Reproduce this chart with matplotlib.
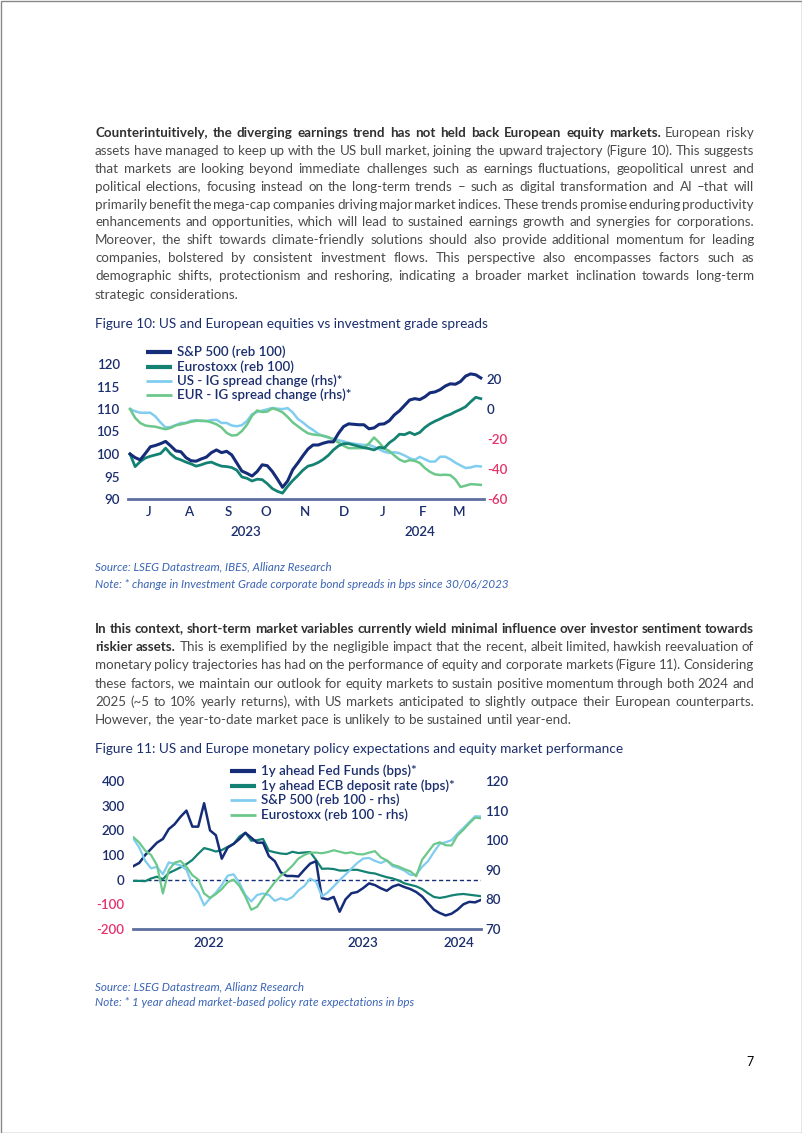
import numpy as np
import pandas as pd
import matplotlib
matplotlib.use('Agg')
import matplotlib.pyplot as plt
import matplotlib.dates as mdates
from matplotlib.lines import Line2D
from matplotlib.patches import Rectangle

# ---- figure 10 data (every 4 days from 30/06/2023) ----
dates10 = pd.date_range('2023-06-30', periods=70, freq='4D')
sp500_10 = [100.0, 99.2, 98.7, 100.1, 101.6, 101.9, 102.3, 102.8, 101.8, 100.7,
            100.5, 99.2, 98.5, 98.4, 98.9, 99.3, 100.3, 100.9, 100.3, 100.6,
            99.8, 98.0, 96.2, 95.7, 95.1, 96.1, 97.6, 97.4, 96.1, 94.4,
            92.6, 94.0, 96.5, 98.0, 99.6, 101.1, 102.0, 102.0, 102.4, 102.7,
            102.7, 104.6, 106.1, 106.7, 106.6, 106.5, 106.5, 105.6, 105.8, 106.6,
            106.7, 107.4, 108.7, 109.6, 110.8, 112.0, 112.3, 112.1, 112.7, 113.6,
            113.8, 114.3, 115.1, 115.6, 115.5, 116.1, 117.3, 117.8, 117.6, 116.9]
estx_10 = [100.0, 97.2, 98.3, 99.1, 99.5, 99.8, 100.1, 101.3, 100.0, 99.1,
           98.7, 98.2, 97.8, 97.3, 97.6, 98.0, 98.2, 97.7, 97.3, 97.2,
           97.0, 96.4, 94.9, 94.6, 94.0, 94.4, 94.3, 93.4, 92.3, 91.7,
           91.3, 92.8, 94.1, 95.2, 96.4, 97.3, 97.6, 98.1, 98.8, 99.7,
           100.9, 101.8, 102.3, 102.3, 102.0, 101.7, 101.4, 101.2, 100.9, 101.5,
           101.3, 102.5, 103.3, 104.4, 104.3, 104.8, 104.3, 104.8, 105.9, 106.7,
           107.3, 107.8, 108.4, 108.8, 109.4, 109.9, 110.5, 111.6, 112.6, 112.3]
us_ig = [0, -1.5, -2.5, -2.5, -2.5, -5, -9, -12.3, -12, -10.7,
         -9.3, -9.3, -7.8, -7.4, -8.1, -8.1, -7.4, -7.2, -9.3, -9.3,
         -11, -11.5, -10.8, -8, -3.5, -1.9, -1.1, -0.2, 0.7, 0.2,
         -0.1, 0.6, -2.3, -6.6, -9.0, -11.8, -14, -16.5, -18.1, -19.1,
         -19.9, -20.8, -21.6, -22.5, -23.1, -23.6, -23.9, -23.9, -25.2, -26.9,
         -28.5, -29.3, -28.8, -29.5, -31.0, -32.8, -33.9, -31.9, -33.5, -35.1,
         -35, -31.8, -31.8, -33.5, -35.8, -37.6, -39.3, -39, -38, -38.3]
eur_ig = [0, -5.9, -9.3, -11, -11.5, -11.8, -12.7, -13.5, -12.6, -10.9,
          -10.2, -9.4, -8.5, -7.9, -7.7, -8.0, -8.9, -10.2, -12.3, -15.9,
          -17.7, -17.4, -14.7, -10.5, -4.5, -1.0, -2.0, -1.7, 0.5, -0.6,
          -2.2, -5.3, -8.9, -11.5, -14, -16.2, -17, -17.4, -17.8, -18.7,
          -20.5, -22.3, -24.5, -26.1, -26.1, -26.1, -26, -23, -19, -22.3,
          -26.3, -28, -31, -33.7, -35.2, -34.1, -34.6, -36, -39.4, -41.9,
          -43.6, -44, -43.8, -44.1, -47, -52, -51.1, -50.1, -50.3, -50.6]
labels10 = ['S&P 500 (reb 100)', 'Eurostoxx (reb 100)',
            'US - IG spread change (rhs)*', 'EUR - IG spread change (rhs)*']
months10 = ['2023-07-15', '2023-08-15', '2023-09-15', '2023-10-15', '2023-11-15',
            '2023-12-15', '2024-01-15', '2024-02-15', '2024-03-15']
month_labels10 = ['J', 'A', 'S', 'O', 'N', 'D', 'J', 'F', 'M']
years10 = {'2023': '2023-09-29', '2024': '2024-02-13'}

# ---- figure 11 data (every 14 days from 01/01/2022) ----
dates11 = pd.date_range('2022-01-01', periods=60, freq='14D')
fed = [55, 68, 100, 125, 150, 165, 205, 225, 255, 280,
       215, 215, 310, 200, 180, 85, 130, 145, 165, 190,
       170, 150, 150, 95, 75, 30, 15, 15, 13, 40,
       65, 75, -75, -80, -70, -130, -80, -55, -50, -34,
       -15, -22, -35, -45, -28, -20, -30, -38, -50, -68,
       -95, -122, -135, -145, -138, -122, -100, -90, -92, -82]
ecb = [-5, -5, -6, 5, 12, 2, 27, 38, 50, 63,
       80, 105, 128, 122, 114, 120, 133, 145, 175, 190,
       158, 160, 165, 117, 111, 106, 104, 113, 108, 110,
       112, 80, 44, 45, 43, 37, 37, 40, 40, 34,
       28, 25, 17, 10, 5, -3, -15, -21, -27, -38,
       -55, -70, -74, -70, -64, -60, -58, -61, -64, -67]
sp500_11 = [100.5, 97.5, 93, 90.5, 91, 88.5, 92.5, 92, 91.5, 90,
            85, 82.5, 78, 80.3, 82.3, 84.9, 88, 88.5, 85.5, 81.5,
            79.3, 81.5, 82, 81.5, 79.5, 80.4, 79.8, 80.8, 83, 84.5,
            87, 86, 81, 82.4, 84.4, 86.5, 88.4, 90.4, 92.3, 93.8,
            94, 93, 92.3, 93.2, 91.2, 90.6, 89.7, 88.3, 88.4, 91,
            92.9, 96, 98.8, 99.3, 100, 102.2, 104.1, 106.1, 108.1, 108]
estx_11 = [101, 99.2, 96.5, 95, 91.5, 82, 89.9, 92.4, 93, 91,
           88.2, 86.7, 82, 80.5, 81.8, 83.5, 85.8, 86.7, 84.5, 81,
           76.5, 77.5, 80.5, 83.2, 85.8, 88, 89.5, 91.4, 93.8, 95,
           95.8, 95.8, 95.6, 96, 96.6, 96.1, 95.6, 95.9, 95.3, 95.2,
           95.8, 96.3, 94.2, 93.2, 91.7, 91.1, 90.2, 89.5, 87.8, 93.4,
           96, 98.6, 99.3, 98.3, 98.2, 101.6, 103.5, 105.7, 107.6, 107.4]
labels11 = ['1y ahead Fed Funds (bps)*', '1y ahead ECB deposit rate (bps)*',
            'S&P 500 (reb 100 - rhs)', 'Eurostoxx (reb 100 - rhs)']
years11 = {'2022': '2022-06-30', '2023': '2023-06-30', '2024': '2024-02-14'}

# ---- page text ----
para1 = [
    [("Counterintuitively, the diverging earnings trend has not held back European equity markets.", True),
     ("European risky", False)],
    [("assets have managed to keep up with the US bull market, joining the upward trajectory (Figure 10). This suggests", False)],
    [("that markets are looking beyond immediate challenges such as earnings fluctuations, geopolitical unrest and", False)],
    [("political elections, focusing instead on the long-term trends \u2013 such as digital transformation and AI \u2013that will", False)],
    [("primarily benefit the mega-cap companies driving major market indices. These trends promise enduring productivity", False)],
    [("enhancements and opportunities, which will lead to sustained earnings growth and synergies for corporations.", False)],
    [("Moreover, the shift towards climate-friendly solutions should also provide additional momentum for leading", False)],
    [("companies, bolstered by consistent investment flows. This perspective also encompasses factors such as", False)],
    [("demographic shifts, protectionism and reshoring, indicating a broader market inclination towards long-term", False)],
    [("strategic considerations.", False)],
]
para2 = [
    [("In this context, short-term market variables currently wield minimal influence over investor sentiment towards", True)],
    [("riskier assets.", True),
     ("This is exemplified by the negligible impact that the recent, albeit limited, hawkish reevaluation of", False)],
    [("monetary policy trajectories has had on the performance of equity and corporate markets (Figure 11). Considering", False)],
    [("these factors, we maintain our outlook for equity markets to sustain positive momentum through both 2024 and", False)],
    [("2025 (~5 to 10% yearly returns), with US markets anticipated to slightly outpace their European counterparts.", False)],
    [("However, the year-to-date market pace is unlikely to be sustained until year-end.", False)],
]
para1_y = [133, 151, 169, 187, 205, 222, 240, 258, 276, 295]
para2_y = [629, 647, 665, 684, 702, 720]

W, H = 802, 1133
FONT = 'Lato'
plt.rcParams['font.family'] = [FONT, 'DejaVu Sans']
plt.rcParams['axes.unicode_minus'] = False

NAVY = '#152c78'
TEAL = '#138272'
LBLUE = '#80cdef'
LGREEN = '#6cc88a'
TXT = '#1b2e6e'
RED = '#e5336b'
AXL = '#5d6f9e'
SRC = '#3a64b4'
BODY = 9.6


def ink_top(a, x0, x1):
    rows = np.where((a[:, x0:x1] < 200).any(axis=1))[0]
    return rows[0] if len(rows) else 0


def comma_shift(word, bold):
    # pixel offset Agg gives a word ending in a comma against the same word without it
    ref = word.rstrip(',')
    if ref == word or ref.endswith(')'):
        return 0
    f = plt.figure(figsize=(6, 0.6), dpi=100)
    kw = dict(fontsize=BODY, va='baseline', fontweight='bold' if bold else 'normal', color='black')
    f.text(10 / 600, 0.5, ref, **kw)
    f.text(300 / 600, 0.5, word, **kw)
    f.canvas.draw()
    a = np.asarray(f.canvas.buffer_rgba())[:, :, 0]
    d = ink_top(a, 300, 600) - ink_top(a, 0, 290)
    plt.close(f)
    return d


fig = plt.figure(figsize=(W / 100, H / 100), dpi=100)
fig.patch.set_facecolor('white')


def fx(x):
    return x / W


def fy(y):
    return 1 - y / H


renderer = fig.canvas.get_renderer()


def put_line(y, segs, justify=True, x0=95, x1=754):
    words = []
    for txt, bold in segs:
        for w in txt.split():
            words.append((w, bold))
    arts = []
    for w, bold in words:
        dy = comma_shift(w, bold)
        t = fig.text(0, fy(y + 4 - dy), w, fontsize=BODY, va='baseline', ha='left',
                     fontweight='bold' if bold else 'normal',
                     color='#303030' if bold else '#4a4a4a')
        arts.append(t)
    widths = [t.get_window_extent(renderer).width for t in arts]
    if justify and len(arts) > 1:
        gap = (x1 - x0 - sum(widths)) / (len(arts) - 1)
    else:
        t1 = fig.text(0, 0, 'a a', fontsize=BODY)
        t2 = fig.text(0, 0, 'aa', fontsize=BODY)
        gap = t1.get_window_extent(renderer).width - t2.get_window_extent(renderer).width
        t1.remove()
        t2.remove()
    x = x0
    for t, w in zip(arts, widths):
        t.set_x(fx(x))
        x += w + gap


for i, (segs, y) in enumerate(zip(para1, para1_y)):
    put_line(y, segs, justify=(i < len(para1) - 1))
for i, (segs, y) in enumerate(zip(para2, para2_y)):
    put_line(y, segs, justify=(i < len(para2) - 1))

fig.text(fx(95), fy(324), 'Figure 10: US and European equities vs investment grade spreads',
         fontsize=9.8, color=TXT, va='center')
fig.text(fx(95), fy(749), 'Figure 11: US and Europe monetary policy expectations and equity market performance',
         fontsize=9.8, color=TXT, va='center')
fig.text(fx(95), fy(567), 'Source: LSEG Datastream, IBES, Allianz Research',
         fontsize=8.4, color=SRC, style='italic', va='center')
fig.text(fx(95), fy(584), 'Note: * change in Investment Grade corporate bond spreads in bps since 30/06/2023',
         fontsize=8.4, color=SRC, style='italic', va='center')
fig.text(fx(95), fy(987), 'Source: LSEG Datastream, Allianz Research',
         fontsize=8.4, color=SRC, style='italic', va='center')
fig.text(fx(95), fy(1003), 'Note: * 1 year ahead market-based policy rate expectations in bps',
         fontsize=8.4, color=SRC, style='italic', va='center')
fig.text(fx(750), fy(1062), '7', fontsize=9, color='black', va='center', ha='center')
fig.add_artist(Rectangle((fx(0.5), fy(1132.5)), fx(801), 1132 / H, transform=fig.transFigure,
                         fill=False, edgecolor='#888888', lw=1))


def style_axes(ax, ax2):
    for a in (ax, ax2):
        for s in a.spines.values():
            s.set_visible(False)
    ax.spines['bottom'].set_visible(True)
    ax.spines['bottom'].set_color(AXL)
    ax.spines['bottom'].set_linewidth(2)
    ax.set_zorder(2)
    ax.patch.set_visible(False)
    ax2.set_zorder(1)


def legend(x0, ys, colors, lws, labels):
    for y, c, lw, lab in zip(ys, colors, lws, labels):
        fig.add_artist(Line2D([fx(x0), fx(x0 + 26)], [fy(y), fy(y)], color=c, lw=lw,
                              transform=fig.transFigure, solid_capstyle='butt'))
        fig.text(fx(x0 + 31), fy(y), lab, fontsize=9.6, color=TXT, va='center',
                 fontweight='semibold')


# ---- Figure 10 ----
ax = fig.add_axes([fx(128), fy(499), (484 - 128) / W, 135 / H])
ax2 = ax.twinx()
ax2.plot(dates10, us_ig, color=LBLUE, lw=1.8)
ax2.plot(dates10, eur_ig, color=LGREEN, lw=1.8)
ax.plot(dates10, estx_10, color=TEAL, lw=2)
ax.plot(dates10, sp500_10, color=NAVY, lw=2.2)
style_axes(ax, ax2)
start = dates10[0]
ax.set_xlim(start - pd.Timedelta(days=1.6), start + pd.Timedelta(days=278.5))
ax.set_ylim(90, 120)
ax2.set_ylim(-60, 30)
ax.set_yticks([90, 95, 100, 105, 110, 115, 120])
ax2.set_yticks([-60, -40, -20, 0, 20])
ax.set_xticks(mdates.date2num(pd.to_datetime(months10)))
ax.set_xticklabels(month_labels10)
ax.tick_params(axis='both', length=0, labelsize=9.6, labelcolor=TXT)
ax.tick_params(axis='y', pad=6)
ax.tick_params(axis='x', pad=5)
ax2.tick_params(axis='y', length=0, labelsize=9.6, pad=2)
for t in ax2.get_yticklabels():
    t.set_color(RED if float(t.get_text().replace('\u2212', '-')) < 0 else TXT)
for t in ax.get_xticklabels() + ax.get_yticklabels() + ax2.get_yticklabels():
    t.set_fontweight('semibold')
for yr, d in years10.items():
    ax.text(mdates.date2num(pd.Timestamp(d)), -(532 - 499) / 135, yr,
            transform=ax.get_xaxis_transform(), ha='center', va='center',
            fontsize=9.6, color=TXT, fontweight='semibold')
legend(146, [352, 367, 381, 395], [NAVY, TEAL, LBLUE, LGREEN], [3, 3, 2, 2], labels10)

# ---- Figure 11 ----
bx = fig.add_axes([fx(133), fy(929), (481 - 133) / W, 148 / H])
bx2 = bx.twinx()
bx.axhline(0, color=NAVY, lw=1, ls=(0, (3, 2)))
bx.plot(dates11, ecb, color=TEAL, lw=1.6)
bx.plot(dates11, fed, color=NAVY, lw=1.8)
bx2.plot(dates11, sp500_11, color=LBLUE, lw=1.6)
bx2.plot(dates11, estx_11, color=LGREEN, lw=1.6)
style_axes(bx, bx2)
bx.set_zorder(1)
bx2.set_zorder(2)
bx2.patch.set_visible(False)
start = dates11[0]
bx.set_xlim(start - pd.Timedelta(days=1), start + pd.Timedelta(days=826))
bx.set_ylim(-200, 400)
bx2.set_ylim(70, 120)
bx.set_yticks([-200, -100, 0, 100, 200, 300, 400])
bx2.set_yticks([70, 80, 90, 100, 110, 120])
bx.set_xticks(mdates.date2num(pd.to_datetime(list(years11.values()))))
bx.set_xticklabels(list(years11.keys()))
bx.tick_params(axis='both', length=0, labelsize=9.6, labelcolor=TXT)
bx.tick_params(axis='y', pad=6)
bx.tick_params(axis='x', pad=6)
bx2.tick_params(axis='y', length=0, labelsize=9.6, labelcolor=TXT, pad=3)
for t in bx.get_yticklabels():
    if float(t.get_text().replace('\u2212', '-')) < 0:
        t.set_color(RED)
for t in bx.get_xticklabels() + bx.get_yticklabels() + bx2.get_yticklabels():
    t.set_fontweight('semibold')
legend(230, [771, 786, 800, 815], [NAVY, TEAL, LBLUE, LGREEN], [3, 3, 2, 2], labels11)

fig.savefig('out.png', dpi=100)
